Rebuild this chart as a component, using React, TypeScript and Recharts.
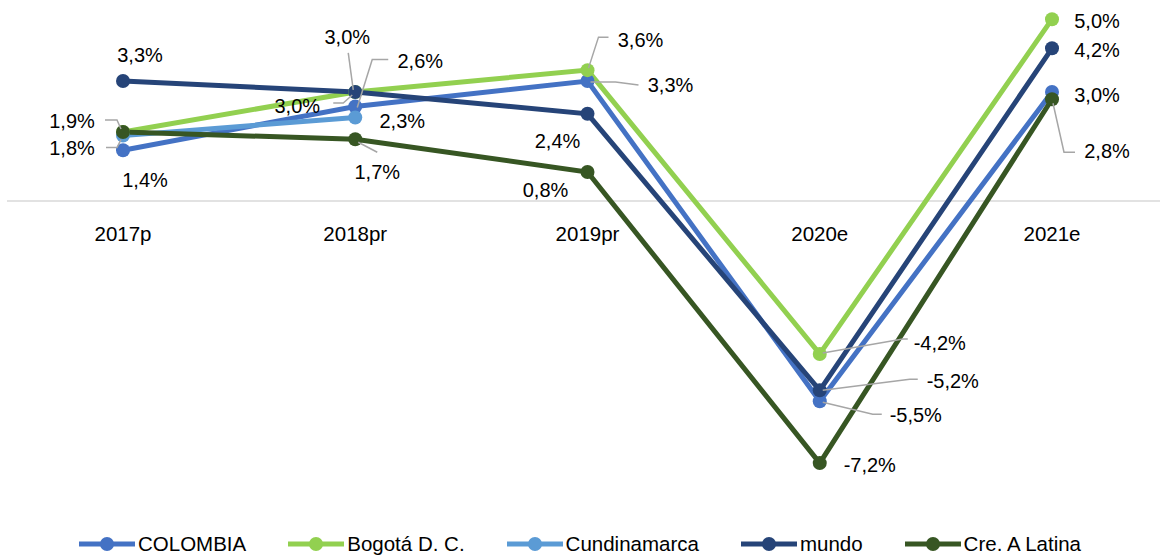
import { LineChart, Line, XAxis, YAxis, ReferenceLine, ReferenceDot, Legend, LabelList } from 'recharts';

const years = ['2017p', '2018pr', '2019pr', '2020e', '2021e'];
const colombia = [1.4, 2.6, 3.3, -5.5, 3.0];
const bogota = [1.9, 3.0, 3.6, -4.2, 5.0];
const cundinamarca = [1.8, 2.3, null, null, null];
const mundo = [3.3, 3.0, 2.4, -5.2, 4.2];
const latina = [1.9, 1.7, 0.8, -7.2, 2.8];

const data = years.map((y, i) => ({
  year: y,
  col: colombia[i],
  bog: bogota[i],
  cun: cundinamarca[i],
  mun: mundo[i],
  lat: latina[i],
}));

const series = [
  { key: 'col', name: 'COLOMBIA', color: '#4472C4' },
  { key: 'bog', name: 'Bogotá D. C.', color: '#92D050' },
  { key: 'cun', name: 'Cundinamarca', color: '#5B9BD5' },
  { key: 'mun', name: 'mundo', color: '#264478' },
  { key: 'lat', name: 'Cre. A Latina', color: '#375623' },
];

// label offsets from the point, plus optional leader line (relative points)
type Pos = { dx: number; dy: number; lead?: number[][] } | null;
const labelPos: Record<string, Pos[]> = {
  col: [
    { dx: 22, dy: 30 },
    { dx: 65, dy: -46, lead: [[2, 1], [17, -47], [33, -47]] },
    { dx: 83, dy: 4, lead: [[3, 1], [28, 1], [51, 4]] },
    { dx: 96, dy: 14, lead: [[3, 1], [53, 13], [62, 13]] },
    { dx: 45, dy: 3 },
  ],
  bog: [
    null,
    { dx: -58, dy: 14, lead: [[-22, 11], [-12, 11], [-3, 3]] },
    { dx: 53, dy: -30, lead: [[1, -2], [11, -33], [21, -33]] },
    { dx: 120, dy: -11, lead: [[3, -1], [83, -15], [88, -15]] },
    { dx: 45, dy: 2 },
  ],
  cun: [
    { dx: -51, dy: 12, lead: [[-17, 12], [-6, 12], [-2, 4]] },
    { dx: 47, dy: 4 },
    null,
    null,
    null,
  ],
  mun: [
    { dx: 17, dy: -26 },
    { dx: -8, dy: -55, lead: [[-7, -39], [-2, -2]] },
    { dx: -30, dy: 27 },
    { dx: 133, dy: -9, lead: [[3, 0], [90, -11], [98, -11]] },
    { dx: 45, dy: 2 },
  ],
  lat: [
    { dx: -51, dy: -11, lead: [[-18, -12], [-6, -12], [-2, -3]] },
    { dx: 22, dy: 33, lead: [[3, 3], [22, 13]] },
    { dx: -42, dy: 18 },
    { dx: 50, dy: 2 },
    { dx: 55, dy: 52, lead: [[1, 4], [12, 53], [23, 53]] },
  ],
};

const FONT = '"Liberation Sans", Arial, sans-serif';
const fmt = (v: number) => v.toFixed(1).replace('.', ',') + '%';

const renderLabel = (key: string) => (props: any) => {
  const { x, y, value, index } = props;
  if (value == null || x == null || y == null) return null;
  const pos = labelPos[key][index];
  if (!pos) return null;
  return (
    <g>
      {pos.lead && (
        <polyline
          points={pos.lead.map((p) => `${x + p[0]},${y + p[1]}`).join(' ')}
          fill="none"
          stroke="#A6A6A6"
          strokeWidth={1.5}
        />
      )}
      <text
        x={x + pos.dx}
        y={y + pos.dy}
        textAnchor="middle"
        dominantBaseline="central"
        fontFamily={FONT}
        fontSize={20}
        fill="#000"
      >
        {fmt(value)}
      </text>
    </g>
  );
};

const LegendContent = () => (
  <div
    style={{
      display: 'flex',
      justifyContent: 'center',
      alignItems: 'center',
      height: 27,
      fontFamily: FONT,
      fontSize: 20.5,
      color: '#000',
    }}
  >
    {series.map((s) => (
      <div key={s.key} style={{ display: 'flex', alignItems: 'center', margin: '0 21px' }}>
        <svg width={56} height={20}>
          <line x1={0} y1={10} x2={56} y2={10} stroke={s.color} strokeWidth={5} />
          <circle cx={28} cy={10} r={7} fill={s.color} />
        </svg>
        <span style={{ marginLeft: 3 }}>{s.name}</span>
      </div>
    ))}
  </div>
);

export default function App() {
  return (
    <div style={{ position: 'absolute', left: 0, top: 0, background: '#fff' }}>
      <LineChart width={1160} height={557} data={data} margin={{ top: 1, right: 0, left: 7, bottom: 56 }}>
        <XAxis dataKey="year" hide padding={{ left: 116, right: 108 }} />
        <YAxis hide domain={[-7.5, 5.5]} />
        <ReferenceLine y={0} stroke="#D9D9D9" strokeWidth={1.5} />
        {years.map((yr) => (
          <ReferenceDot
            key={yr}
            x={yr}
            y={0}
            r={0}
            fill="none"
            stroke="none"
            label={{ value: yr, position: 'bottom', offset: 25, fontFamily: FONT, fontSize: 20.5, fill: '#000' }}
          />
        ))}
        {series.map((s) => (
          <Line
            key={s.key}
            type="linear"
            dataKey={s.key}
            name={s.name}
            stroke={s.color}
            strokeWidth={5}
            dot={{ r: 7, fill: s.color, stroke: s.color, strokeWidth: 0 }}
            activeDot={false}
            isAnimationActive={false}
          >
            <LabelList dataKey={s.key} content={renderLabel(s.key)} />
          </Line>
        ))}
        <Legend verticalAlign="bottom" content={<LegendContent />} wrapperStyle={{ left: 0, width: 1160, bottom: 0 }} />
      </LineChart>
    </div>
  );
}
